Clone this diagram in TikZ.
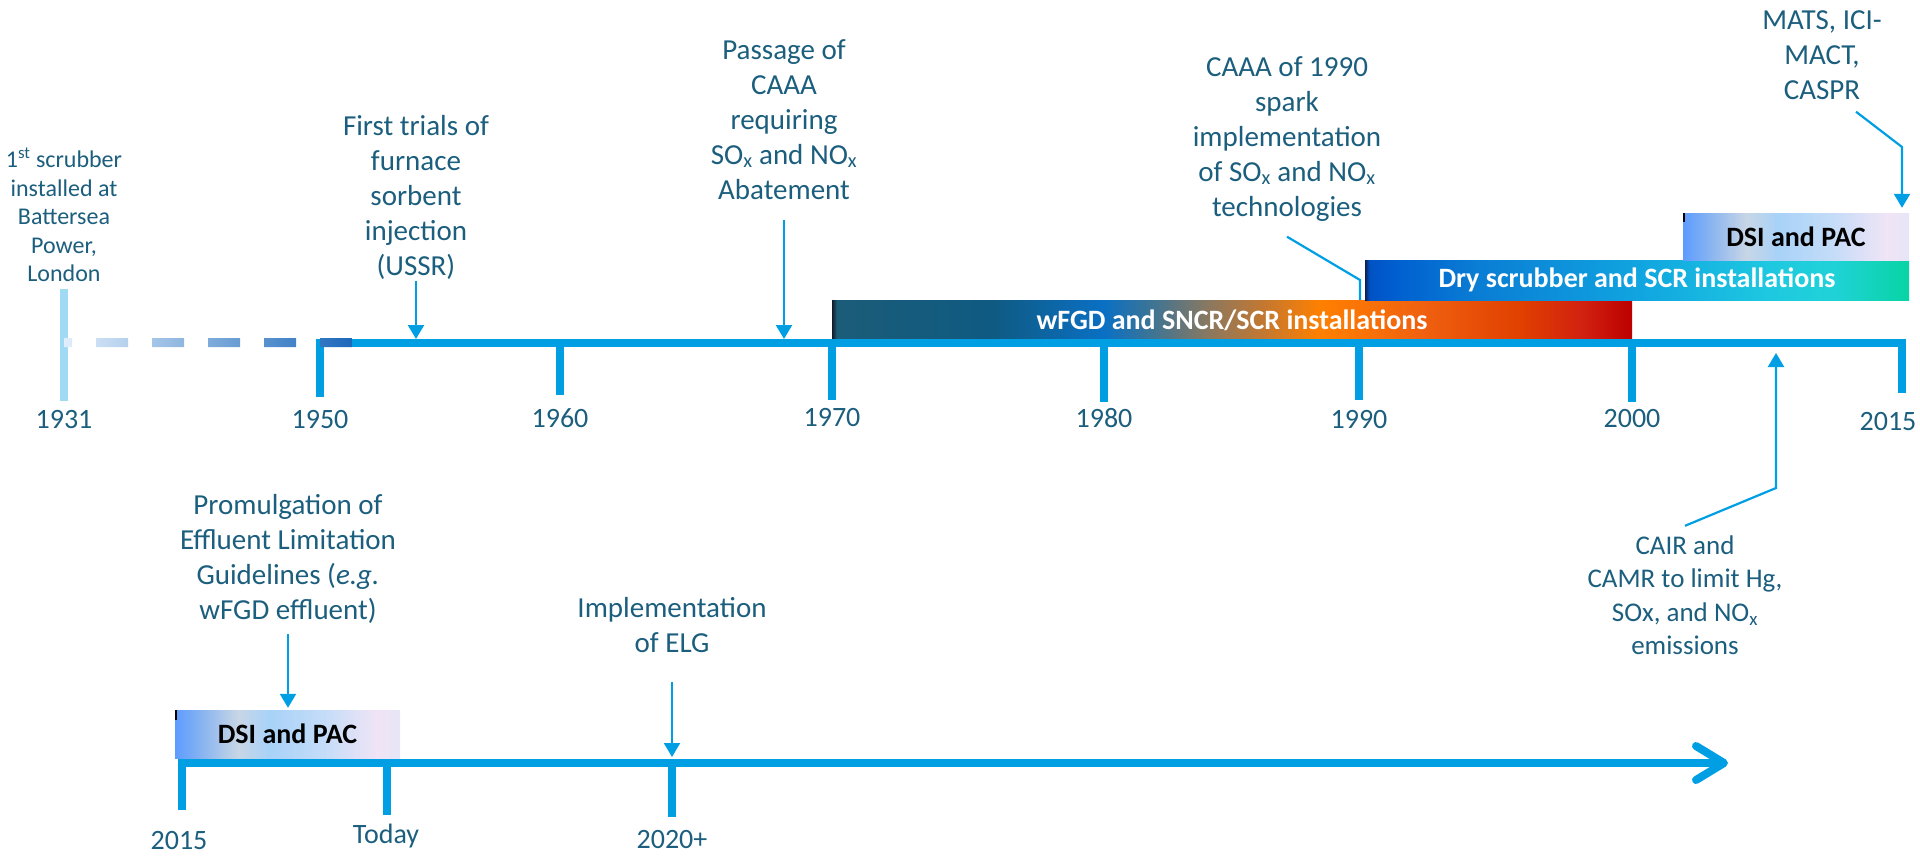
\documentclass[tikz,border=0pt]{standalone}
\usepackage{fontspec}
\setmainfont{Carlito}
\usetikzlibrary{arrows.meta}
\definecolor{tl}{RGB}{0,159,227}
\definecolor{txt}{RGB}{27,94,125}
\definecolor{lighttick}{RGB}{160,218,244}
\definecolor{dash0}{RGB}{225,238,252}
\definecolor{dash1}{RGB}{28,104,186}
% wFGD bar colours
\definecolor{wf0}{RGB}{16,28,40}
\definecolor{wf1}{RGB}{27,92,120}
\definecolor{wf2}{RGB}{15,90,130}
\definecolor{wf3}{RGB}{10,112,196}
\definecolor{wf4}{RGB}{62,116,148}
\definecolor{wf5}{RGB}{138,120,96}
\definecolor{wf6}{RGB}{196,120,48}
\definecolor{wf7}{RGB}{255,128,0}
\definecolor{wf8}{RGB}{240,96,16}
\definecolor{wf9}{RGB}{224,64,0}
\definecolor{wf10}{RGB}{208,32,16}
\definecolor{wf11}{RGB}{188,0,0}
% dry scrubber bar colours
\definecolor{dr0}{RGB}{13,30,80}
\definecolor{dr1}{RGB}{0,82,196}
\definecolor{dr2}{RGB}{0,96,208}
\definecolor{dr3}{RGB}{10,124,212}
\definecolor{dr4}{RGB}{16,164,224}
\definecolor{dr5}{RGB}{30,200,224}
\definecolor{dr6}{RGB}{32,210,216}
\definecolor{dr7}{RGB}{8,212,164}
% DSI bar colours
\definecolor{ds0}{RGB}{92,156,255}
\definecolor{ds1}{RGB}{136,180,240}
\definecolor{ds2}{RGB}{200,214,230}
\definecolor{ds3}{RGB}{168,210,248}
\definecolor{ds4}{RGB}{196,220,248}
\definecolor{ds5}{RGB}{240,228,246}
\definecolor{ds6}{RGB}{230,230,246}
\pgfdeclarehorizontalshading{wfgdshade}{100bp}{color(0bp)=(wf0); color(25bp)=(wf0); color(25.3bp)=(wf1); color(35bp)=(wf2); color(42bp)=(wf3); color(45bp)=(wf4); color(48.5bp)=(wf5); color(52bp)=(wf6); color(55.5bp)=(wf7); color(62bp)=(wf8); color(68bp)=(wf9); color(72bp)=(wf10); color(75bp)=(wf11); color(100bp)=(wf11)}
\pgfdeclarehorizontalshading{dryshade}{100bp}{color(0bp)=(dr0); color(25bp)=(dr0); color(25.4bp)=(dr1); color(28bp)=(dr2); color(35bp)=(dr3); color(50bp)=(dr4); color(62bp)=(dr5); color(68bp)=(dr6); color(75bp)=(dr7); color(100bp)=(dr7)}
\pgfdeclarehorizontalshading{dsishade}{100bp}{color(0bp)=(ds0); color(25bp)=(ds0); color(31bp)=(ds1); color(39bp)=(ds2); color(46bp)=(ds3); color(58bp)=(ds4); color(70bp)=(ds5); color(75bp)=(ds6); color(100bp)=(ds6)}
\newcommand{\subx}{\textsubscript{x}}
\begin{document}
\begin{tikzpicture}[x=1pt,y=-1pt,
  lbl/.style={text=txt, align=center, inner sep=0pt, font=\fontsize{29}{35}\selectfont},
  yr/.style={text=txt, inner sep=0pt, font=\fontsize{28}{34}\selectfont},
  barbox/.style={shade, inner sep=0pt, font=\bfseries\fontsize{28}{34}\selectfont},
  tickline/.style={draw=tl, line width=8pt},
  pointer/.style={draw=tl, line width=2.2pt, -{Triangle[length=14pt,width=16pt]}},
  leader/.style={draw=tl, line width=2.2pt}]
\useasboundingbox (0,0) rectangle (1920,855);

% ---------- bars ----------
\node[barbox, shading=wfgdshade, minimum width=800pt, minimum height=40pt, text=white] (wfgd) at (1232,320) {wFGD and SNCR/SCR installations};
\node[barbox, shading=dryshade, minimum width=544pt, minimum height=40pt, text=white] (dry) at (1637,280) {Dry scrubber and SCR installations};
\node[barbox, shading=dsishade, minimum width=226pt, minimum height=47pt, text=black] (dsitop) at (1796,236.5) {DSI and PAC};
\node[barbox, shading=dsishade, minimum width=225pt, minimum height=48pt, text=black] (dsilow) at (287.5,734) {DSI and PAC};
\draw[black, line width=2pt] (1684,213) -- (1684,222);
\draw[black, line width=2pt] (176,710) -- (176,720);

% ---------- upper timeline ----------
\coordinate (t1950) at (320,343);
\coordinate (t1960) at (560,343);
\coordinate (t1970) at (832,343);
\coordinate (t1980) at (1104,343);
\coordinate (t1990) at (1359,343);
\coordinate (t2000) at (1632,343);
\coordinate (t2015) at (1902,343);
\draw[lighttick, line width=8pt] (64,289) -- (64,401);
\draw[tickline, line join=miter] ([yshift=-54pt]t1950) -- (t1950) -- (t2015) -- ([yshift=-50pt]t2015);
\draw[tickline] (t1960) -- ++(0,52);
\draw[tickline] (t1970) -- ++(0,57);
\draw[tickline] (t1980) -- ++(0,59);
\draw[tickline] (t1990) -- ++(0,57);
\draw[tickline] (t2000) -- ++(0,59);
\begin{scope}
\clip (64,338) rectangle (72,347) (96,338) rectangle (128,347) (152,338) rectangle (184,347)
      (208,338) rectangle (240,347) (264,338) rectangle (296,347) (320,338) rectangle (352,347);
\shade[left color=dash0, right color=dash1] (64,338) rectangle (352,347);
\end{scope}

\node[yr] (y1931) at (64,420) {1931};
\node[yr] (y1950) at (320,420) {1950};
\node[yr] (y1960) at (560,418) {1960};
\node[yr] (y1970) at (832,418) {1970};
\node[yr] (y1980) at (1104,418) {1980};
\node[yr] (y1990) at (1359,420) {1990};
\node[yr] (y2000) at (1632,419) {2000};
\node[yr] (y2015) at (1888,422) {2015};

% ---------- upper labels ----------
\node[lbl, font=\fontsize{24}{28.5}\selectfont] (batt) at (64,219) {\strut 1\textsuperscript{st} scrubber\\installed at\\Battersea\\Power,\\London\strut};
\node[lbl] (ftr) at (416,198) {\strut First trials of\\furnace\\sorbent\\injection\\(USSR)\strut};
\node[lbl] (pas) at (784,122) {\strut Passage of\\CAAA\\requiring\\SO\subx{} and NO\subx\\Abatement\strut};
\node[lbl] (caaa) at (1287,139) {\strut CAAA of 1990\\spark\\implementation\\of SO\subx{} and NO\subx\\technologies\strut};
\node[lbl] (mats) at (1822,57) {\strut MATS, ICI-\\MACT,\\CASPR\strut};
\node[lbl, font=\fontsize{27}{33.5}\selectfont] (cair) at (1685,598) {\strut CAIR and\\CAMR to limit Hg,\\SOx, and NO\subx\\emissions\strut};

\coordinate (ftrtip) at (416,339);
\coordinate (pastip) at (784,339);
\coordinate (caaak) at (1360,280);
\coordinate (matsk) at (1902,147);
\coordinate (cairk) at (1776,488);
\coordinate (cairtip) at (1776,353);
\draw[pointer, shorten <=-5pt] (ftr.south) -- (ftrtip);
\draw[pointer, shorten <=10pt] (pas.south) -- (pastip);
\draw[leader] ([yshift=-10pt]caaa.south) -- (caaak) -- (caaak |- wfgd.north);
\draw[pointer, shorten >=5pt] ([xshift=34pt,yshift=-2pt]mats.south) -- (matsk) -- (matsk |- dsitop.north);
\draw[pointer] ([yshift=5pt]cair.north) -- (cairk) -- (cairtip);

% ---------- lower timeline ----------
\coordinate (l0) at (178,763);
\coordinate (lend) at (1728,763);
\draw[draw=tl, line width=8pt, -{Straight Barb[length=28pt,width=34pt,round]}] (l0) -- (lend);
\draw[tickline] (182,763) -- (182,810);
\draw[tickline] (387,763) -- (387,815);
\draw[tickline] (672,763) -- (672,817);
\node[yr] (b2015) at (179,840) {2015};
\node[yr] (btoday) at (386,836) {Today};
\node[yr] (b2020) at (672,839) {2020+};

\node[lbl] (prom) at (288,560) {\strut Promulgation of\\Effluent Limitation\\Guidelines (\textit{e.g.}\\wFGD effluent)\strut};
\node[lbl] (impl) at (672,627.5) {\strut Implementation\\of ELG\strut};
\coordinate (impltip) at (672,757);
\draw[pointer, shorten <=4pt, shorten >=2pt] (prom.south) -- (prom.south |- dsilow.north);
\draw[pointer, shorten <=19pt] (impl.south) -- (impltip);
\end{tikzpicture}
\end{document}
